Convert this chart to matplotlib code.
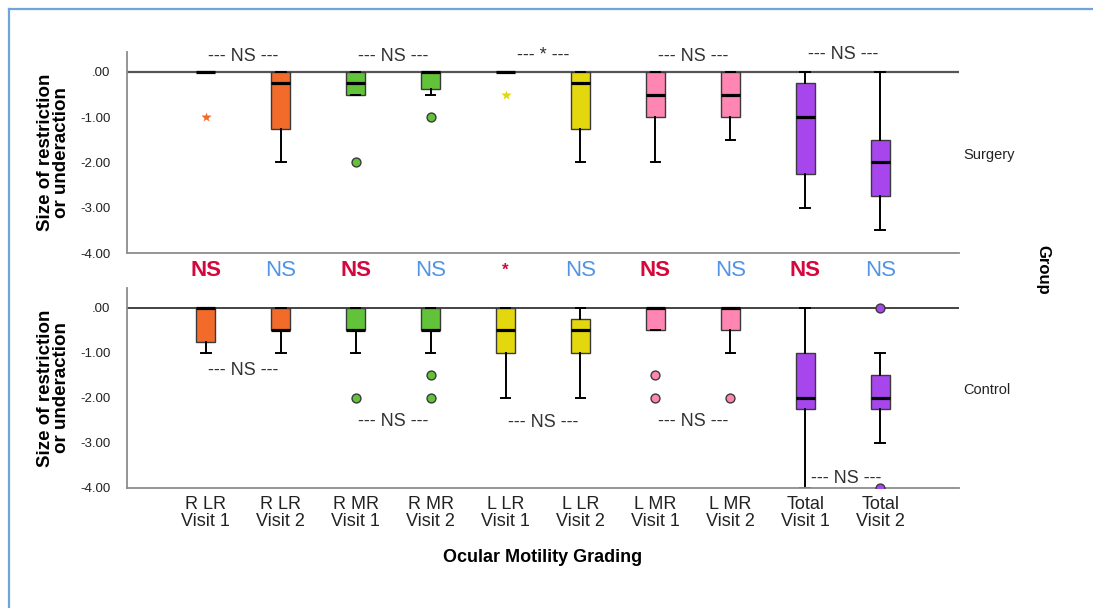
import matplotlib
matplotlib.use("Agg")
import matplotlib.pyplot as plt
from matplotlib.lines import Line2D

plt.rcParams['font.family'] = ['Liberation Sans', 'DejaVu Sans']

# Ocular motility categories
categories = ["R LR\nVisit 1", "R LR\nVisit 2", "R MR\nVisit 1", "R MR\nVisit 2",
              "L LR\nVisit 1", "L LR\nVisit 2", "L MR\nVisit 1", "L MR\nVisit 2",
              "Total\nVisit 1", "Total\nVisit 2"]
box_colors = ["#F26B2B", "#F26B2B", "#62C23A", "#62C23A", "#E3D70D",
              "#E3D70D", "#FF86B2", "#FF86B2", "#A846EE", "#A846EE"]

# Surgery group summaries
surgery_q1 = [0, -1.25, -0.5, -0.375, 0, -1.25, -1.0, -1.0, -2.25, -2.75]
surgery_med = [0, -0.25, -0.25, 0, 0, -0.25, -0.5, -0.5, -1.0, -2.0]
surgery_q3 = [0, 0, 0, 0, 0, 0, 0, 0, -0.25, -1.5]
surgery_whislo = [0, -2.0, -0.5, -0.5, 0, -2.0, -2.0, -1.5, -3.0, -3.5]
surgery_whishi = [0, 0, 0, 0, 0, 0, 0, 0, 0, 0]
surgery_outliers = [[], [], [-2.0], [-1.0], [], [], [], [], [], []]
surgery_extremes = [[-1.0], [], [], [], [-0.5], [], [], [], [], []]

# Control group summaries
control_q1 = [-0.75, -0.5, -0.5, -0.5, -1.0, -1.0, -0.5, -0.5, -2.25, -2.25]
control_med = [0, -0.5, -0.5, -0.5, -0.5, -0.5, 0, 0, -2.0, -2.0]
control_q3 = [0, 0, 0, 0, 0, -0.25, 0, 0, -1.0, -1.5]
control_whislo = [-1.0, -1.0, -1.0, -1.0, -2.0, -2.0, -0.5, -1.0, -4.0, -3.0]
control_whishi = [0, 0, 0, 0, 0, 0, 0, 0, 0, -1.0]
control_outliers = [[], [], [-2.0], [-1.5, -2.0], [], [], [-1.5, -2.0], [-2.0], [], [0, -4.0]]
control_extremes = [[], [], [], [], [], [], [], [], [], []]

# Between-group test labels
group_tests = ["NS", "NS", "NS", "NS", "*", "NS", "NS", "NS", "NS", "NS"]
# Visit comparison labels (pairs)
surgery_pair_tests = ["NS", "NS", "*", "NS", "NS"]
control_pair_tests = ["NS", "NS", "NS", "NS", "NS"]
y_ticks = [0, -1, -2, -3, -4]
y_tick_labels = [".00", "-1.00", "-2.00", "-3.00", "-4.00"]

W, H = 1093, 608
fig = plt.figure(figsize=(W / 100, H / 100), dpi=100)

def fx(px):
    return px / W

def fy(py):
    return 1 - py / H

ax_top = fig.add_axes([fx(127), fy(253), fx(959 - 127), (253 - 52) / H])
ax_bot = fig.add_axes([fx(127), fy(488), fx(959 - 127), (488 - 288) / H])

spine_col = "#8C8C8C"


def draw_panel(ax, q1, med, q3, wlo, whi, outl, extr, zero_col, zero_lw):
    stats = []
    for i in range(len(categories)):
        stats.append(dict(q1=q1[i], med=med[i], q3=q3[i], whislo=wlo[i],
                          whishi=whi[i], fliers=[], label=""))
    pos = list(range(len(categories)))
    ax.axhline(0, color=zero_col, lw=zero_lw, zorder=1)
    res = ax.bxp(stats, positions=pos, widths=0.26, patch_artist=True,
                 showfliers=False, manage_ticks=False,
                 boxprops=dict(edgecolor="#3A3A3A", linewidth=1.0),
                 medianprops=dict(color="black", linewidth=2.3),
                 whiskerprops=dict(color="black", linewidth=1.4),
                 capprops=dict(color="black", linewidth=1.4),
                 capwidths=0.13)
    for patch, c in zip(res["boxes"], box_colors):
        patch.set_facecolor(c)
        patch.set_zorder(2)
    for i in pos:
        if outl[i]:
            ax.plot([i] * len(outl[i]), outl[i], "o", ms=6.4,
                    mfc=box_colors[i], mec="#3A3A3A", mew=1.0, zorder=4)
        if extr[i]:
            ax.plot([i] * len(extr[i]), extr[i], "*", ms=7.5,
                    color=box_colors[i], mec="none", zorder=4)
    ax.set_xlim(-1.05, 10.05)
    ax.set_ylim(-4.0, 0.44)
    ax.set_yticks(y_ticks)
    ax.set_yticklabels(y_tick_labels, fontsize=9.5, color="#222222")
    ax.tick_params(axis="y", length=0, pad=12)
    ax.tick_params(axis="x", length=0)
    for s in ["top", "right"]:
        ax.spines[s].set_visible(False)
    for s in ["left", "bottom"]:
        ax.spines[s].set_color(spine_col)
        ax.spines[s].set_linewidth(1.3)
    ax.set_ylabel("Size of restriction\nor underaction", fontsize=13.5,
                  fontweight="bold", labelpad=7, linespacing=0.95)


draw_panel(ax_top, surgery_q1, surgery_med, surgery_q3, surgery_whislo,
           surgery_whishi, surgery_outliers, surgery_extremes, "#555555", 1.6)
draw_panel(ax_bot, control_q1, control_med, control_q3, control_whislo,
           control_whishi, control_outliers, control_extremes, "#111111", 1.1)

ax_top.set_xticks([])
ax_bot.set_xticks(range(len(categories)))
ax_bot.set_xticklabels(categories, fontsize=13, color="#222222",
                       linespacing=0.95)
ax_bot.tick_params(axis="x", pad=6)
ax_bot.set_xlabel("Ocular Motility Grading", fontsize=13, fontweight="bold",
                  labelpad=14)

# Visit-to-visit comparisons
ann_kw = dict(ha="center", va="center", fontsize=13, color="#333333")
top_y = [0.33, 0.33, 0.37, 0.33, 0.38]
for k, lab in enumerate(surgery_pair_tests):
    ax_top.text(2 * k + 0.5, top_y[k], f"--- {lab} ---", clip_on=False, **ann_kw)
bot_xy = [(0.5, -1.4), (2.5, -2.53), (4.5, -2.55), (6.5, -2.53), (8.55, -3.78)]
for (x, y), lab in zip(bot_xy, control_pair_tests):
    ax_bot.text(x, y, f"--- {lab} ---", clip_on=False, **ann_kw)

# Surgery vs control comparisons
for i, lab in enumerate(group_tests):
    red = (i % 2 == 0)
    ax_top.text(i, -4.39, lab, ha="center", va="center",
                fontsize=16 if lab != "*" else 12,
                color="#D4083C" if red else "#4F94E6",
                fontweight="semibold" if red else "normal", clip_on=False)

# Group facet labels
fig.text(fx(963), fy(155), "Surgery", fontsize=10.5, color="#222222",
         ha="left", va="center")
fig.text(fx(963), fy(390), "Control", fontsize=10.5, color="#222222",
         ha="left", va="center")
fig.text(fx(1043), fy(270), "Group", fontsize=12, fontweight="bold",
         rotation=270, ha="center", va="center")

# Frame
fig.add_artist(Line2D([fx(9), 1.0], [fy(9), fy(9)], color="#6FA3DC", lw=1.6))
fig.add_artist(Line2D([fx(9), fx(9)], [fy(9), 0.0], color="#6FA3DC", lw=1.6))

fig.savefig("out.png", dpi=100)
